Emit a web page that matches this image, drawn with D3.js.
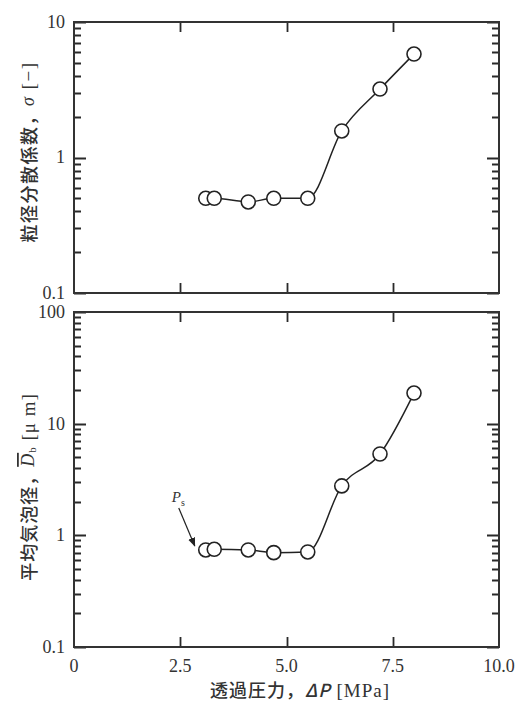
<!DOCTYPE html>
<html>
<head>
<meta charset="utf-8">
<script src="https://cdn.jsdelivr.net/npm/d3@7"></script>
<style>
  body { margin: 0; background: #fff; }
  .tick-label { font-family: "Liberation Serif", serif; font-size: 18px; fill: #333; }
  .axis-title { font-family: "Noto Sans CJK JP", sans-serif; font-size: 18px; font-weight: 500; fill: #333; }
</style>
</head>
<body>
<svg id="chart" width="517" height="702"></svg>
<script>
const pressure = [3.1, 3.3, 4.1, 4.7, 5.5, 6.3, 7.2, 8.0];
const dispersion = [0.5, 0.5, 0.47, 0.5, 0.5, 1.57, 3.2, 5.8];
const bubbleSize = [0.74, 0.75, 0.74, 0.70, 0.71, 2.77, 5.35, 18.8];
const xTicks = [0, 2.5, 5.0, 7.5, 10.0];
const xTickLabels = ['0', '2.5', '5.0', '7.5', '10.0'];
const topTicks = [0.1, 1, 10];
const topTickLabels = ['0.1', '1', '10'];
const bottomTicks = [0.1, 1, 10, 100];
const bottomTickLabels = ['0.1', '1', '10', '100'];

const svg = d3.select('#chart');
const x = d3.scaleLinear().domain([0, 10]).range([74, 499]);
const yTop = d3.scaleLog().domain([0.1, 10]).range([293, 22]);
const yBottom = d3.scaleLog().domain([0.1, 100]).range([647, 312]);

svg.append('defs').append('marker')
  .attr('id', 'arrow')
  .attr('viewBox', '0 0 10 10')
  .attr('refX', 9).attr('refY', 5)
  .attr('markerWidth', 9).attr('markerHeight', 9)
  .attr('markerUnits', 'userSpaceOnUse')
  .attr('orient', 'auto')
  .append('path').attr('d', 'M0,1 L10,5 L0,9 Z').attr('fill', '#222');

function minorValues(domain) {
  const out = [];
  for (let dec = domain[0]; dec < domain[1] * 0.999; dec *= 10) {
    for (let k = 2; k <= 9; k++) out.push(dec * k);
  }
  return out;
}

function drawPanel(y, ticks, tickLabels, values) {
  const [left, right] = x.range();
  const [bottom, top] = y.range();
  const g = svg.append('g');

  // log ticks, inward on both sides
  const yTickData = [];
  minorValues(y.domain()).forEach((v) => yTickData.push({ v, len: 7 }));
  ticks.forEach((v) => yTickData.push({ v, len: 12 }));
  const tickPath = d3.path();
  yTickData.forEach((d) => {
    const yy = Math.round(y(d.v)) + 0.5;
    tickPath.moveTo(left, yy);
    tickPath.lineTo(left + d.len, yy);
    tickPath.moveTo(right, yy);
    tickPath.lineTo(right - d.len, yy);
  });
  // x ticks on top and bottom edges
  xTicks.slice(1, -1).forEach((v) => {
    const xx = Math.round(x(v)) + 0.5;
    tickPath.moveTo(xx, bottom);
    tickPath.lineTo(xx, bottom - 10);
    tickPath.moveTo(xx, top);
    tickPath.lineTo(xx, top + 10);
  });
  g.append('path')
    .attr('d', tickPath.toString())
    .attr('fill', 'none')
    .attr('stroke', '#2a2a2a')
    .attr('stroke-width', 1.8);

  g.append('rect')
    .attr('x', left).attr('y', top)
    .attr('width', right - left).attr('height', bottom - top)
    .attr('fill', 'none').attr('stroke', '#333').attr('stroke-width', 2);

  g.selectAll('text.ylab')
    .data(ticks)
    .join('text')
    .attr('class', 'tick-label')
    .attr('x', left - 9)
    .attr('y', (d) => y(d))
    .attr('dy', '0.33em')
    .attr('text-anchor', 'end')
    .text((d, i) => tickLabels[i]);

  const pts = pressure.map((p, i) => [x(p), y(values[i])]);
  g.append('path')
    .attr('d', d3.line().curve(d3.curveMonotoneX)(pts))
    .attr('fill', 'none').attr('stroke', '#222').attr('stroke-width', 1.5);
  g.selectAll('circle')
    .data(pts)
    .join('circle')
    .attr('cx', (d) => d[0]).attr('cy', (d) => d[1])
    .attr('r', 7)
    .attr('fill', '#fff').attr('stroke', '#222').attr('stroke-width', 1.6);
  return g;
}

drawPanel(yTop, topTicks, topTickLabels, dispersion);
drawPanel(yBottom, bottomTicks, bottomTickLabels, bubbleSize);

// x tick labels under bottom panel
svg.selectAll('text.xlab')
  .data(xTicks)
  .join('text')
  .attr('class', 'tick-label')
  .attr('x', (d) => x(d))
  .attr('y', yBottom.range()[0] + 25)
  .attr('text-anchor', 'middle')
  .text((d, i) => xTickLabels[i]);

// axis titles
const xt = svg.append('text').attr('class', 'axis-title')
  .attr('x', 300).attr('y', 697).attr('text-anchor', 'middle')
  .attr('letter-spacing', 1);
xt.append('tspan').text('透過圧力，');
xt.append('tspan').attr('font-style', 'italic').text('ΔP');
xt.append('tspan').attr('font-family', 'Liberation Serif').attr('font-size', 19).text(' [MPa]');

const t1 = svg.append('text').attr('class', 'axis-title')
  .attr('transform', 'translate(28,152) rotate(-90)')
  .attr('text-anchor', 'middle').attr('dominant-baseline', 'central')
  .attr('letter-spacing', 1.5);
t1.append('tspan').text('粒径分散係数，');
t1.append('tspan').attr('font-style', 'italic').attr('font-family', 'Liberation Serif').text('σ');
t1.append('tspan').attr('font-family', 'Liberation Serif').attr('font-size', 19).text(' [−]');

const t2 = svg.append('text').attr('class', 'axis-title')
  .attr('transform', 'translate(28,487) rotate(-90)')
  .attr('text-anchor', 'middle').attr('dominant-baseline', 'central')
  .attr('letter-spacing', 1);
t2.append('tspan').text('平均気泡径，');
t2.append('tspan').attr('font-style', 'italic').attr('font-family', 'Liberation Serif')
  .style('text-decoration', 'overline').text('D');
t2.append('tspan').attr('font-family', 'Liberation Serif').attr('font-size', 11).attr('dy', 4).text('b');
t2.append('tspan').attr('font-family', 'Liberation Serif').attr('font-size', 19).attr('dy', -4).text(' [μ m]');

// P_s annotation pointing at the first bottom point
const ax = x(pressure[0]);
const ay = yBottom(bubbleSize[0]);
svg.append('line')
  .attr('x1', ax - 27).attr('y1', ay - 42)
  .attr('x2', ax - 11).attr('y2', ay - 4)
  .attr('stroke', '#222').attr('stroke-width', 1.2)
  .attr('marker-end', 'url(#arrow)');
const ps = svg.append('text')
  .attr('x', ax - 34).attr('y', ay - 48)
  .attr('font-family', 'Liberation Serif').attr('font-size', 15).attr('fill', '#333');
ps.append('tspan').attr('font-style', 'italic').text('P');
ps.append('tspan').attr('font-size', 10).attr('dy', 4).text('s');
</script>
</body>
</html>
